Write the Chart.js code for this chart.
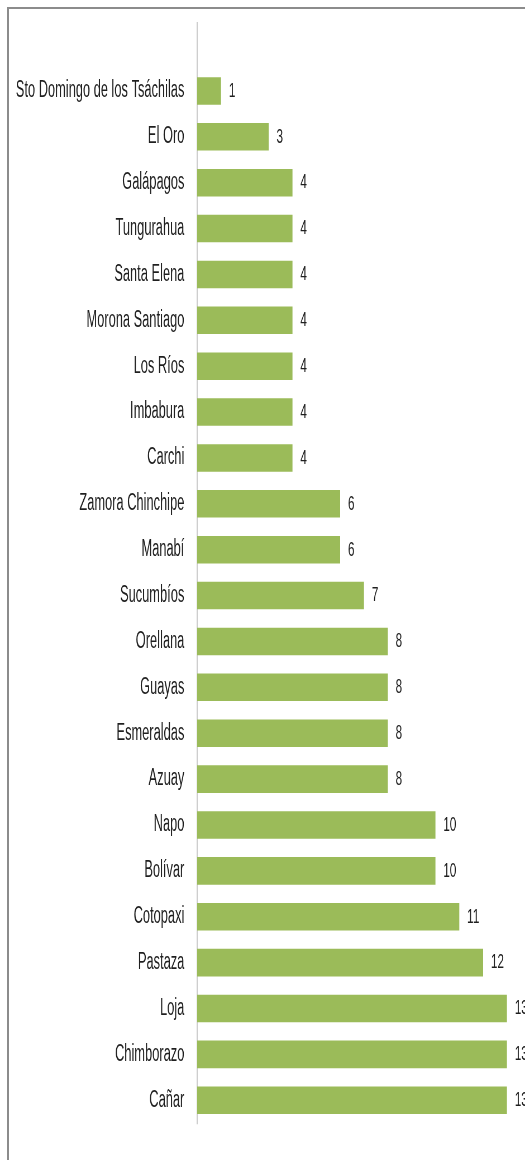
<!DOCTYPE html>
<html>
<head>
<meta charset="utf-8">
<script src="https://cdn.jsdelivr.net/npm/chart.js@4/dist/chart.umd.min.js"></script>
<style>
  body { margin: 0; background: #fff; overflow: hidden; }
  #marco { position: absolute; left: 7px; top: 7px; right: -5px; bottom: -5px; border-top: 2px solid #8c8c8c; border-left: 2px solid #8c8c8c; }
  #myChart { position: absolute; left: 0; top: 0; display: block; }
</style>
</head>
<body>
<div id="marco"></div>
<!-- canvas mas ancho que el css para comprimir el texto como en el original -->
<canvas id="myChart" width="940" height="1160" style="width:525px;height:1160px"></canvas>
<script>
let provincias = ['Sto Domingo de los Tsáchilas', 'El Oro', 'Galápagos', 'Tungurahua', 'Santa Elena',
  'Morona Santiago', 'Los Ríos', 'Imbabura', 'Carchi', 'Zamora Chinchipe', 'Manabí', 'Sucumbíos',
  'Orellana', 'Guayas', 'Esmeraldas', 'Azuay', 'Napo', 'Bolívar', 'Cotopaxi', 'Pastaza', 'Loja',
  'Chimborazo', 'Cañar']
let cantidades = [1, 3, 4, 4, 4, 4, 4, 4, 4, 6, 6, 7, 8, 8, 8, 8, 10, 10, 11, 12, 13, 13, 13]
let colorBarra = '#9bbb59'
let colorTexto = '#1f1f1f'

// linea del eje vertical (sube por encima de la primera barra)
let ejePlugin = {
  id: 'eje',
  beforeDatasetsDraw(chart) {
    let ctx = chart.ctx
    let x = chart.scales.x.getPixelForValue(0)
    ctx.save()
    ctx.strokeStyle = '#c4c4c4'
    ctx.lineWidth = 1.8
    ctx.beginPath()
    ctx.moveTo(x, 22)
    ctx.lineTo(x, chart.chartArea.bottom + 1)
    ctx.stroke()
    ctx.restore()
  }
}

// etiquetas de valor al final de cada barra
let valoresPlugin = {
  id: 'valores',
  afterDatasetsDraw(chart) {
    let ctx = chart.ctx
    let meta = chart.getDatasetMeta(0)
    ctx.save()
    ctx.font = '21px "Liberation Sans", Arial, sans-serif'
    ctx.fillStyle = colorTexto
    ctx.textAlign = 'left'
    ctx.textBaseline = 'middle'
    meta.data.forEach(function(bar, i) {
      ctx.fillText(String(cantidades[i]), bar.x + 14, bar.y)
    })
    ctx.restore()
  }
}

let grafico = document.getElementById('myChart').getContext('2d')
let myChart = new Chart(grafico, {
  type: 'bar',
  data: {
    labels: provincias,
    datasets: [
      {
        data: cantidades,
        backgroundColor: colorBarra,
        borderWidth: 0,
        barPercentage: 0.6,
        categoryPercentage: 1,
      },
    ],
  },
  options: {
    indexAxis: 'y',
    responsive: false,
    animation: false,
    layout: {
      padding: { top: 68, bottom: 29, left: 0, right: 11 },
    },
    plugins: {
      legend: { display: false },
      tooltip: { enabled: false },
    },
    scales: {
      x: {
        display: false,
        min: 0,
        max: 13.5,
      },
      y: {
        grid: { display: false, drawTicks: false },
        border: { display: false },
        ticks: {
          padding: 23,
          color: colorTexto,
          font: { family: '"Liberation Sans", Arial, sans-serif', size: 23 },
        },
        afterFit(scale) {
          scale.width = 353
        },
      },
    },
  },
  plugins: [ejePlugin, valoresPlugin],
})
</script>
</body>
</html>
